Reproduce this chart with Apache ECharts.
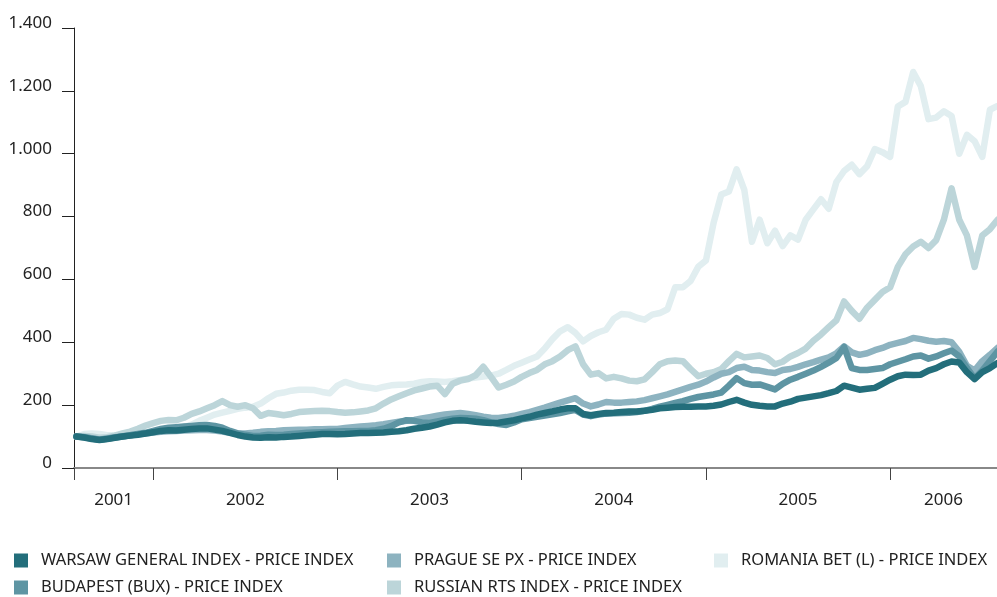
<!DOCTYPE html>
<html>
<head>
<meta charset="utf-8">
<script src="https://cdn.jsdelivr.net/npm/echarts@6/dist/echarts.min.js"></script>
<style>
  html, body { margin: 0; padding: 0; background: #fff; }
  #chart { width: 997px; height: 597px; }
</style>
</head>
<body>
<div id="chart"></div>
<script>
// semi-monthly points, Aug 2001 .. Aug 2006 (fractional years)
const dates = [];
for (let i = 0; i < 121; i++) dates.push(2001 + 7 / 12 + i / 24);

const warsaw = [
  100, 97, 92, 89, 92, 96, 100, 103, 106, 110,
  114, 118, 120, 119, 122, 124, 126, 126, 122, 118,
  112, 105, 100, 97, 96, 98, 97, 99, 100, 102,
  104, 106, 108, 108, 107, 108, 110, 111, 111, 112,
  113, 115, 117, 120, 125, 128, 132, 138, 145, 150,
  152, 150, 147, 145, 143, 144, 148, 152, 158, 163,
  170, 175, 180, 186, 190, 190, 172, 168, 172, 175,
  176, 178, 180, 180, 182, 185, 190, 192, 194, 195,
  195, 196, 196, 198, 202, 210, 217, 208, 201, 198,
  196, 196, 205, 211, 220, 224, 228, 232, 238, 245,
  262, 256, 249, 252, 255, 268, 281, 292, 297, 296,
  297, 310, 318, 330, 339, 336, 305, 283, 305, 318,
  334
];
const budapest = [
  100, 98, 94, 90, 93, 97, 100, 104, 108, 112,
  118, 124, 128, 130, 132, 134, 136, 137, 134, 128,
  118, 110, 106, 102, 103, 106, 105, 106, 108, 110,
  112, 113, 114, 115, 116, 117, 117, 118, 118, 120,
  125, 133, 145, 152, 150, 145, 143, 148, 153, 157,
  159, 158, 157, 152, 145, 140, 137, 145, 155, 159,
  163, 167, 171, 175, 180, 185, 170, 165, 170, 173,
  174, 175, 176, 178, 182, 188, 195, 201, 207, 213,
  220, 226, 230, 234, 240, 262, 286, 270, 265, 266,
  258, 250, 268, 281, 290, 300, 310, 322, 335, 350,
  385, 318, 312, 312, 315, 318, 330, 338, 346, 355,
  358, 348, 355, 365, 374, 355, 318, 285, 310, 340,
  371
];
const prague = [
  100, 99, 95, 91, 94, 98, 101, 104, 107, 110,
  113, 115, 117, 118, 119, 120, 121, 121, 119, 116,
  112, 110, 110, 112, 115, 117, 118, 120, 121, 122,
  122, 123, 123, 124, 124, 127, 130, 132, 134, 136,
  139, 143, 147, 150, 153, 158, 162, 166, 170, 173,
  175, 172, 168, 163, 160, 159, 162, 166, 172, 178,
  185, 192, 200, 208, 215, 222, 205, 196, 202, 210,
  208, 208, 210, 212, 216, 222, 228, 234, 242, 250,
  258, 265, 275, 288, 300, 305, 318, 322, 312, 310,
  305, 302, 312, 315, 322, 330, 337, 345, 352, 365,
  387, 368, 360, 365, 375, 382, 392, 398, 404, 414,
  410, 405, 402, 404, 400, 370, 325, 310, 340, 360,
  382
];
const russia = [
  100, 102, 100, 96, 98, 103, 110, 116, 125, 135,
  143, 150, 153, 152, 160, 172, 180, 190, 200, 213,
  200, 195, 200, 190, 166, 175, 172, 168, 172, 178,
  180, 181, 182, 181, 178, 176, 177, 180, 183, 190,
  205, 218, 228, 238, 247, 253, 259, 262, 235, 268,
  278, 283, 295, 322, 290, 256, 265, 275, 290, 302,
  312, 330, 340, 355, 375, 387, 330, 297, 302, 285,
  290, 285, 278, 276, 282, 305, 330, 340, 342, 340,
  315, 292, 300, 305, 315, 340, 363, 352, 355, 358,
  350, 330, 338, 355, 366, 380, 405, 425, 448, 470,
  530, 500, 475, 510, 535, 560, 575, 640, 680, 705,
  720, 700, 725, 790, 890, 790, 740, 640, 740, 760,
  790
];
const romania = [
  100, 108, 110, 108, 104, 104, 106, 108, 110, 112,
  115, 118, 122, 126, 130, 138, 150, 160, 170, 176,
  182, 188, 192, 195, 205, 222, 236, 240, 246, 249,
  249, 248, 242, 238, 262, 274, 266, 259, 256, 252,
  258, 263, 265, 266, 268, 274, 276, 275, 274, 276,
  280, 285, 288, 291, 294, 300, 312, 325, 335, 345,
  355, 380, 410, 435, 448, 430, 403, 420, 432, 440,
  475, 490, 488, 478, 472, 488, 493, 505, 575, 575,
  595, 640, 660, 780, 870, 880, 950, 885, 720, 790,
  715, 755, 706, 740, 727, 790, 823, 855, 825, 910,
  945, 965, 935, 960, 1015, 1005, 990, 1150, 1165, 1260,
  1215, 1110, 1115, 1135, 1120, 1000, 1060, 1040, 990, 1140,
  1152
];

const names = [
  'WARSAW GENERAL INDEX - PRICE INDEX',
  'BUDAPEST (BUX) - PRICE INDEX',
  'PRAGUE SE PX - PRICE INDEX',
  'RUSSIAN RTS INDEX - PRICE INDEX',
  'ROMANIA BET (L) - PRICE INDEX'
];
const colors = ['#236e7b', '#5e95a3', '#8db3c0', '#bcd5d9', '#e1eef0'];
const values = [warsaw, budapest, prague, russia, romania];

const xMin = 2001.57, xMax = 2006.58;
const yearTicks = [xMin, 2002, 2003, 2004, 2005, 2006];
const yearLabelPos = [(xMin + 2002) / 2, 2002.5, 2003.5, 2004.5, 2005.5, (2006 + xMax) / 2];

function fmtThousands(v) {
  if (v >= 1000) return Math.floor(v / 1000) + '.' + String(v % 1000).padStart(3, '0');
  return String(v);
}

const chart = echarts.init(document.getElementById('chart'));

// romania drawn first so the darker lines sit on top
const series = [];
for (let k = values.length - 1; k >= 0; k--) {
  series.push({
    name: names[k],
    type: 'line',
    data: dates.map((d, i) => [d, values[k][i]]),
    showSymbol: false,
    color: colors[k],
    lineStyle: { width: 6.5, color: colors[k], cap: 'round', join: 'round' },
    emphasis: { disabled: true }
  });
}

// one legend per item, laid out as in the source (3 columns, 2 rows)
const legendSpots = [[14, 552], [14, 579], [387, 552], [387, 579], [714, 552]];
const legends = names.map((n, k) => ({
  data: [n],
  left: legendSpots[k][0],
  top: legendSpots[k][1],
  icon: 'rect',
  itemWidth: 14,
  itemHeight: 14,
  padding: 0,
  textStyle: {
    fontFamily: 'Noto Sans', fontSize: 16.5, color: '#222',
    lineHeight: 14, padding: [0, 0, 0, 8]
  }
}));

chart.setOption({
  animation: false,
  textStyle: { fontFamily: 'Noto Sans' },
  grid: { left: 74, right: 0, top: 28, bottom: 129 },
  legend: legends,
  xAxis: {
    type: 'value',
    min: xMin,
    max: xMax,
    splitLine: { show: false },
    axisLine: { lineStyle: { color: '#888', width: 2 } },
    axisTick: { show: true, length: 12, customValues: yearTicks, lineStyle: { color: '#444', width: 1 } },
    axisLabel: {
      customValues: yearLabelPos,
      formatter: v => String(Math.floor(v)),
      color: '#222',
      fontSize: 17,
      margin: 24
    }
  },
  yAxis: {
    type: 'value',
    min: 0,
    max: 1400,
    interval: 200,
    splitLine: { show: false },
    axisLine: { show: true, lineStyle: { color: '#222', width: 1 } },
    axisTick: { show: true, length: 12, lineStyle: { color: '#222', width: 1 } },
    axisLabel: {
      formatter: fmtThousands,
      color: '#222',
      fontSize: 17,
      margin: 22,
      verticalAlign: 'bottom',
      lineHeight: 10
    }
  },
  series: series
});
</script>
</body>
</html>
